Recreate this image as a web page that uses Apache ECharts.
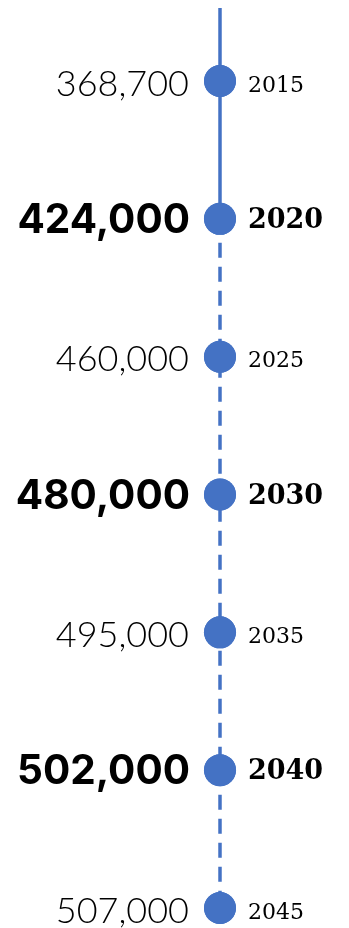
<!DOCTYPE html>
<html><head><meta charset="utf-8">
<script src="https://cdn.jsdelivr.net/npm/echarts@6/dist/echarts.min.js"></script>
<style>html,body{margin:0;padding:0;background:#fff}#c{width:349px;height:928px}</style>
</head><body><div id="c"></div>
<script>
const years = [2015, 2020, 2025, 2030, 2035, 2040, 2045];
const values = [368700, 424000, 460000, 480000, 495000, 502000, 507000];
const bold = [false, true, false, true, false, true, false];
const axisTop = 2012.35;
const solidYears = [axisTop, 2015, 2020];
const dashedYears = [2020, 2025, 2030, 2035, 2040, 2045];
const blue = '#4472C4';
const fmt = v => v.toString().replace(/\B(?=(\d{3})+(?!\d))/g, ',');

const chart = echarts.init(document.getElementById('c'), null, {renderer: 'canvas'});
chart.setOption({
  animation: false,
  grid: {left: 120, right: 29, top: 8, bottom: 20},
  xAxis: {type: 'value', min: -1, max: 1, show: false},
  yAxis: {type: 'value', min: axisTop, max: 2045, inverse: true, show: false},
  series: [
    {type: 'line', data: solidYears.map(y => [0, y]), symbol: 'none',
     lineStyle: {color: blue, width: 3.5}},
    {type: 'line', data: dashedYears.map(y => [0, y]), symbol: 'none',
     lineStyle: {color: blue, width: 3.5, type: [15, 9]}},
    {type: 'scatter', symbolSize: 32, itemStyle: {color: blue, opacity: 1}, z: 3,
     data: years.map((y, i) => ({
       value: [0, y],
       label: bold[i]
         ? {show: true, position: 'left', distance: 14, formatter: fmt(values[i]),
            fontFamily: 'Inter', fontWeight: 'bold', fontSize: 40.5, color: '#000', offset: [0, 2]}
         : {show: true, position: 'left', distance: 15, formatter: fmt(values[i]),
            fontFamily: 'Lato', fontWeight: 300, fontSize: 36, color: '#000', offset: [0, 3]}
     }))},
    {type: 'scatter', symbolSize: 32, itemStyle: {color: blue, opacity: 1}, silent: true, z: 3,
     data: years.map((y, i) => ({
       value: [0, y],
       label: bold[i]
         ? {show: true, position: 'right', distance: 12, formatter: String(y),
            fontFamily: 'DejaVu Serif', fontWeight: 'bold', fontSize: 27, color: '#000', offset: [0, 2]}
         : {show: true, position: 'right', distance: 12, formatter: String(y),
            fontFamily: 'DejaVu Serif', fontWeight: 'normal', fontSize: 22, color: '#000', offset: [0, 5]}
     }))}
  ]
});
</script></body></html>
